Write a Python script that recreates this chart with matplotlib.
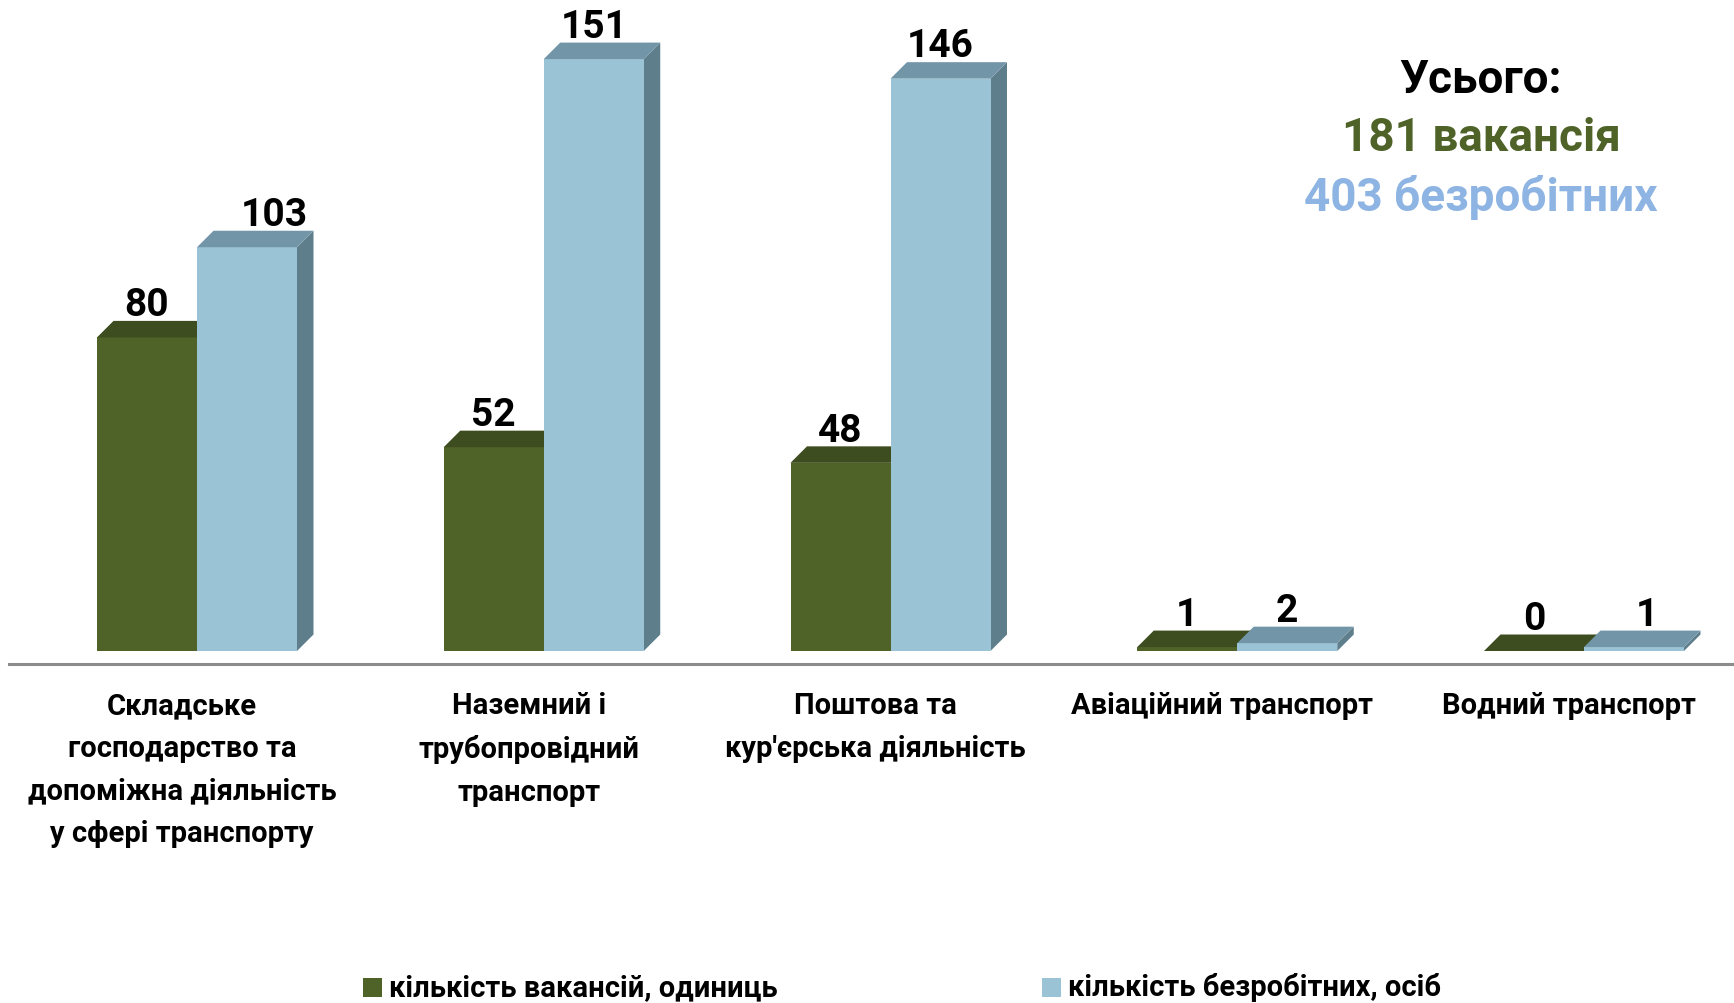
import matplotlib.pyplot as plt
from matplotlib.patches import Polygon, Rectangle

plt.rcParams['font.family'] = ['Roboto', 'DejaVu Sans']

categories = ['Складське\nгосподарство та\nдопоміжна діяльність\nу сфері транспорту',
              'Наземний і\nтрубопровідний\nтранспорт',
              'Поштова та\nкур\'єрська діяльність',
              'Авіаційний транспорт',
              'Водний транспорт']
vacancies = [80, 52, 48, 1, 0]
unemployed = [103, 151, 146, 2, 1]
series_names = ['кількість вакансій, одиниць', 'кількість безробітних, осіб']

# front / top / side colours for the fake 3D bars
green = ('#4F6228', '#3E4D1F', '#3A481C')
blue = ('#9AC3D6', '#7295A8', '#5F7E8C')

W, H = 1734, 1004
cat_px = 346.75      # pixels per category
val_px = 3.92        # pixels per unit
x0_px = 197          # first group centre
base_px = 352        # baseline from bottom
depth = 16.5

fig = plt.figure(figsize=(W / 100, H / 100), dpi=100)
ax = fig.add_axes([0, 0, 1, 1])
ax.set_xlim(-x0_px / cat_px, (W - x0_px) / cat_px)
ax.set_ylim(-base_px / val_px, (H - base_px) / val_px)
ax.axis('off')

dx = depth / cat_px
dy = depth / val_px
bw = 100 / cat_px
gap = -2.3 / val_px


def bar3d(x, v, cols):
    front, top, side = cols
    ax.add_patch(Polygon([(x + bw, 0), (x + bw + dx, dy), (x + bw + dx, v + dy), (x + bw, v)],
                         closed=True, fc=side, ec='none'))
    ax.add_patch(Rectangle((x, 0), bw, v, fc=front, ec='none'))
    ax.add_patch(Polygon([(x, v), (x + dx, v + dy), (x + bw + dx, v + dy), (x + bw, v)],
                         closed=True, fc=top, ec='none'))


# small nudges for a couple of labels, in pixels
nudge_blue = [27, 0, 0, 0, 13]

for i in range(len(categories)):
    bar3d(i - bw, vacancies[i], green)
    bar3d(i, unemployed[i], blue)
    ax.text(i - bw / 2, vacancies[i] + dy + gap, str(vacancies[i]), ha='center', va='bottom',
            fontsize=28, fontweight='bold', color='black')
    ax.text(i + bw / 2 + nudge_blue[i] / cat_px, unemployed[i] + dy + gap, str(unemployed[i]),
            ha='center', va='bottom', fontsize=28, fontweight='bold', color='black')
    ax.text(i - 15 / cat_px, 1 - 692 / H, categories[i], transform=ax.get_xaxis_transform(),
            ha='center', va='top', fontsize=21, fontweight='bold', linespacing=1.66)

# horizontal axis line
ax.plot([9 / W, 1], [(base_px - 13) / H] * 2, transform=ax.transAxes, color='#8C8C8C', lw=2.2)

# totals block
fig.text(1481 / W, 1 - 80 / H, 'Усього:', ha='center', va='center', fontsize=33, fontweight='bold')
fig.text(1481 / W, 1 - 138 / H, f'{sum(vacancies)} вакансія', ha='center', va='center',
         fontsize=33, fontweight='bold', color='#4F6228')
fig.text(1481 / W, 1 - 197 / H, f'{sum(unemployed)} безробітних', ha='center', va='center',
         fontsize=33, fontweight='bold', color='#8DB4E2')

# legend
for sx, tx, name, col in [(363, 389, series_names[0], green[0]), (1042, 1068, series_names[1], blue[0])]:
    fig.patches.append(Rectangle((sx / W, 1 - 998 / H), 19 / W, 19 / H, transform=fig.transFigure,
                                 fc=col, ec='none'))
    fig.text(tx / W, 1 - 988 / H, name, ha='left', va='center', fontsize=21, fontweight='bold')

fig.savefig('out.png', dpi=100)
